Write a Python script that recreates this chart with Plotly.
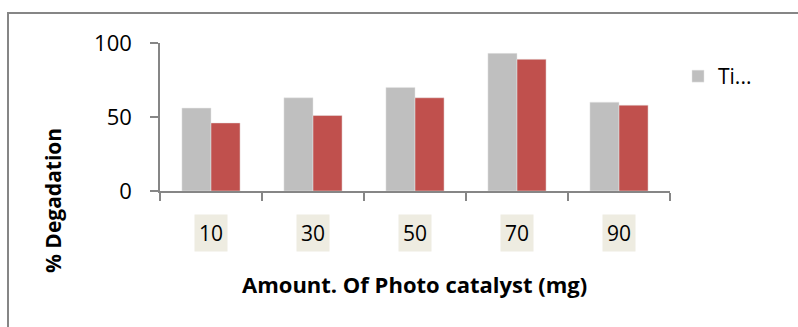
import plotly.graph_objects as go

categories = ["10", "30", "50", "70", "90"]
gray_values = [56, 63, 70, 93, 60]
red_values = [46, 51, 63, 89, 58]
gray_name = "Ti..."
red_name = "Series 2"
y_ticks = [0, 50, 100]
x_title = "Amount. Of Photo catalyst (mg)"
y_title = "% Degadation"

FONT = "Open Sans"
AXIS_COLOR = "#868686"

fig = go.Figure()
fig.add_trace(go.Bar(x=categories, y=gray_values, name=gray_name,
                     marker=dict(color="#BFBFBF", line=dict(color="#E6E6E6", width=0.5))))
fig.add_trace(go.Bar(x=categories, y=red_values, name=red_name, showlegend=False,
                     marker=dict(color="#C0504D", line=dict(color="#E6E6E6", width=0.5))))

L, R, T, B = 160, 670, 43, 191
W, H = 798, 327
pw, ph = R - L, B - T

def px_x(x):
    return (x - L) / pw

def px_y(y):
    return (B - y) / ph

annotations = []
for i, c in enumerate(categories):
    annotations.append(dict(x=i, xref="x", y=px_y(232.5), yref="paper", text=c,
                            showarrow=False, bgcolor="#EEECE1", borderpad=4,
                            font=dict(family=FONT, size=21, color="#000000"),
                            xanchor="center", yanchor="middle"))
annotations.append(dict(x=px_x(414), xref="paper", y=px_y(284), yref="paper", text="<b>" + x_title + "</b>",
                        showarrow=False, font=dict(family=FONT, size=22, color="#000000"),
                        xanchor="center", yanchor="middle"))
annotations.append(dict(x=px_x(53), xref="paper", y=px_y(201), yref="paper", text="<b>" + y_title + "</b>",
                        showarrow=False, textangle=-90, font=dict(family=FONT, size=21, color="#000000"),
                        xanchor="center", yanchor="middle"))

fig.update_layout(
    width=W, height=H,
    margin=dict(l=L, r=W - R, t=T, b=H - B, autoexpand=False),
    paper_bgcolor="white", plot_bgcolor="white",
    barmode="group", bargap=0.43, bargroupgap=0,
    font=dict(family=FONT, size=21, color="#000000"),
    showlegend=True,
    legend=dict(x=px_x(678), y=px_y(56), xanchor="left", yanchor="top",
                font=dict(family=FONT, size=21, color="#000000"),
                bgcolor="rgba(0,0,0,0)", itemwidth=30),
    annotations=annotations,
    shapes=[dict(type="rect", xref="paper", yref="paper",
                 x0=px_x(8), x1=px_x(805), y0=px_y(335), y1=px_y(13),
                 line=dict(color=AXIS_COLOR, width=2), layer="below")],
)
fig.update_xaxes(type="category", showline=True, linecolor=AXIS_COLOR, linewidth=1.5,
                 ticks="outside", tickson="boundaries", ticklen=8, tickcolor=AXIS_COLOR, tickwidth=1.5,
                 showticklabels=False, showgrid=False, zeroline=False, automargin=False)
fig.update_yaxes(range=[0, 100], tickvals=y_ticks, showline=True, linecolor=AXIS_COLOR, linewidth=1.5,
                 ticks="outside", ticklen=8, tickcolor=AXIS_COLOR, tickwidth=1.5, ticklabelstandoff=14,
                 tickfont=dict(family=FONT, size=22, color="#000000"),
                 showgrid=False, zeroline=False, automargin=False)

fig.write_html("out.html", config={"displayModeBar": False},
               post_script="document.body.style.margin='0';")
